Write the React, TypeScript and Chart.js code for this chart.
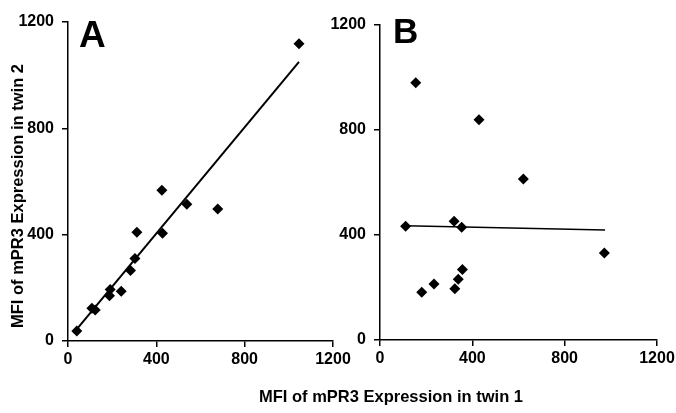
import React, { useEffect, useRef } from "react";
import { Chart, registerables } from "chart.js";

Chart.register(...registerables);

// ---- data ----
const axisTicks = [0, 400, 800, 1200];

const twin1A = [40, 108, 123, 191, 188, 241, 283, 303, 312, 428, 425, 538, 678, 1046];
const twin2A = [38, 123, 117, 194, 170, 187, 265, 310, 409, 405, 567, 514, 497, 1118];
const fitAX = [25, 1046];
const fitAY = [30, 1050];

const twin1B = [111, 155, 429, 621, 321, 354, 972, 357, 339, 324, 234, 181];
const twin2B = [433, 980, 839, 613, 452, 430, 331, 269, 231, 195, 213, 182];
const fitBX = [111, 975];
const fitBY = [435, 419];

const xTitle = "MFI of mPR3 Expression in twin 1";
const yTitle = "MFI of mPR3 Expression in twin 2";
const panelLabels = ["A", "B"];

const FONT = '"Liberation Sans", Arial, Helvetica, sans-serif';
const W = 676;
const H = 413;

type TextItem = {
  text: string;
  x: number;
  y: number;
  font: string;
  align: CanvasTextAlign;
  baseline: CanvasTextBaseline;
  rotate?: number;
};

function makeTextPlugin(items: TextItem[]) {
  return {
    id: "panelText",
    afterDraw(chart: any) {
      const ctx = chart.ctx as CanvasRenderingContext2D;
      items.forEach((it) => {
        ctx.save();
        ctx.font = it.font;
        ctx.fillStyle = "#000";
        ctx.textAlign = it.align;
        ctx.textBaseline = it.baseline;
        ctx.translate(it.x, it.y);
        if (it.rotate) ctx.rotate(it.rotate);
        ctx.fillText(it.text, 0, 0);
        ctx.restore();
      });
    },
  };
}

type PanelSpec = {
  xs: number[];
  ys: number[];
  fx: number[];
  fy: number[];
  area: { left: number; right: number; top: number; bottom: number };
  fitWidth: number;
  texts: TextItem[];
};

const Y_AXIS_W = 68;

function makeChart(canvas: HTMLCanvasElement, spec: PanelSpec) {
  const { area } = spec;
  const scaleCommon = (isX: boolean) => ({
    type: "linear" as const,
    min: 0,
    max: 1200,
    afterBuildTicks: (scale: any) => {
      scale.ticks = axisTicks.map((v) => ({ value: v }));
    },
    afterFit: (scale: any) => {
      if (isX) scale.height = H - area.bottom;
      else scale.width = Y_AXIS_W;
      scale.paddingLeft = 0;
      scale.paddingRight = 0;
      scale.paddingTop = 0;
      scale.paddingBottom = 0;
    },
    ticks: {
      color: "#000",
      font: { family: FONT, size: 16, weight: "bold" as const },
      padding: isX ? 3 : 8,
      maxRotation: 0,
      autoSkip: false,
      callback: (v: any) => String(v),
    },
    grid: {
      display: true,
      drawOnChartArea: false,
      drawTicks: true,
      tickLength: 6,
      color: "#000",
      lineWidth: 1.5,
    },
    border: { display: true, color: "#000", width: 1.5 },
  });

  return new Chart(canvas, {
    type: "scatter",
    data: {
      datasets: [
        {
          type: "scatter",
          data: spec.xs.map((x, i) => ({ x, y: spec.ys[i] })),
          pointStyle: "rectRot",
          pointRadius: 5.5,
          pointBackgroundColor: "#000",
          pointBorderColor: "#000",
          pointBorderWidth: 0,
          showLine: false,
        },
        {
          type: "scatter",
          data: spec.fx.map((x, i) => ({ x, y: spec.fy[i] })),
          showLine: true,
          pointRadius: 0,
          borderColor: "#000",
          borderWidth: spec.fitWidth,
          fill: false,
        },
      ],
    },
    options: {
      responsive: false,
      maintainAspectRatio: false,
      animation: false,
      devicePixelRatio: 1,
      layout: {
        padding: {
          left: area.left - Y_AXIS_W,
          right: W - area.right,
          top: area.top,
          bottom: 0,
        },
      },
      plugins: {
        legend: { display: false },
        tooltip: { enabled: false },
        title: { display: false },
      },
      scales: {
        x: scaleCommon(true) as any,
        y: scaleCommon(false) as any,
      },
    },
    plugins: [makeTextPlugin(spec.texts)],
  });
}

export default function App() {
  const refA = useRef<HTMLCanvasElement | null>(null);
  const refB = useRef<HTMLCanvasElement | null>(null);

  useEffect(() => {
    if (!refA.current || !refB.current) return;
    const chartA = makeChart(refA.current, {
      xs: twin1A,
      ys: twin2A,
      fx: fitAX,
      fy: fitAY,
      area: { left: 68, right: 333, top: 22, bottom: 341 },
      fitWidth: 2,
      texts: [
        {
          text: panelLabels[0],
          x: 79,
          y: 47,
          font: `bold 37px ${FONT}`,
          align: "left",
          baseline: "alphabetic",
        },
        {
          text: yTitle,
          x: 18,
          y: 196,
          font: `bold 16.5px ${FONT}`,
          align: "center",
          baseline: "middle",
          rotate: -Math.PI / 2,
        },
        {
          text: xTitle,
          x: 391,
          y: 397,
          font: `bold 16.5px ${FONT}`,
          align: "center",
          baseline: "middle",
        },
      ],
    });
    const chartB = makeChart(refB.current, {
      xs: twin1B,
      ys: twin2B,
      fx: fitBX,
      fy: fitBY,
      area: { left: 380, right: 657, top: 25, bottom: 340 },
      fitWidth: 1.5,
      texts: [
        {
          text: panelLabels[1],
          x: 393,
          y: 43,
          font: `bold 35px ${FONT}`,
          align: "left",
          baseline: "alphabetic",
        },
      ],
    });
    return () => {
      chartA.destroy();
      chartB.destroy();
    };
  }, []);

  const canvasStyle: React.CSSProperties = {
    position: "absolute",
    left: 0,
    top: 0,
    width: W,
    height: H,
  };

  return (
    <div
      style={{
        position: "absolute",
        left: 0,
        top: 0,
        width: W,
        height: H,
        background: "#fff",
        overflow: "hidden",
      }}
    >
      <canvas ref={refA} width={W} height={H} style={canvasStyle} />
      <canvas ref={refB} width={W} height={H} style={canvasStyle} />
    </div>
  );
}
